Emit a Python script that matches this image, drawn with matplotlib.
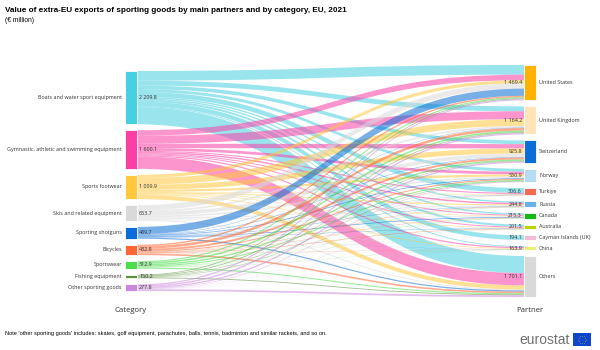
import matplotlib
matplotlib.use("Agg")
import matplotlib.pyplot as plt
from matplotlib.path import Path
from matplotlib.patches import PathPatch, Rectangle
import numpy as np

categories = ["Boats and water sport equipment",
              "Gymnastic, athletic and swimming equipment",
              "Sports footwear", "Skis and related equipment",
              "Sporting shotguns", "Bicycles", "Sportswear",
              "Fishing equipment", "Other sporting goods"]
category_totals = [2209.8, 1600.1, 1009.9, 653.7, 489.7, 432.8, 312.9, 150.2, 277.8]

partners = ["United States", "United Kingdom", "Switzerland", "Norway", "Turkiye",
            "Russia", "Canada", "Australia", "Cayman Islands (UK)", "China", "Others"]
partner_totals = [1469.4, 1164.2, 925.8, 550.9, 306.6, 244.8, 215.3, 201.5, 194.1, 163.9, 1701.1]

# flows from each category to the partners (same order as partners)
boats      = [400, 200, 150, 120, 200, 60, 60, 85, 188, 40, 706.8]
gymnastic  = [230, 330, 180, 110, 45, 60, 40, 40, 2, 50, 513.1]
footwear   = [130, 280, 210, 90, 20, 40, 20, 20, 1, 30, 168.9]
skis       = [220, 70, 150, 70, 10, 40, 30, 10, 0.5, 15, 38.2]
shotguns   = [300, 15, 20, 30, 10, 15, 30, 15, 0.2, 5, 49.5]
bicycles   = [60, 110, 80, 45, 10, 15, 15, 20, 0.5, 10, 67.3]
sportswear = [50, 70, 60, 45, 7, 10, 10, 6, 0.5, 8, 46.4]
fishing    = [30, 30, 20, 20, 1.6, 2, 5, 2.5, 0.2, 2, 36.9]
other      = [49.4, 59.2, 55.8, 20.9, 3.0, 2.8, 5.3, 3.0, 1.2, 3.9, 73.3]

category_colours = ["#48cfe0", "#fa3fa5", "#ffc83d", "#d9d9d9", "#0b6dd5",
                    "#ff6633", "#4cdc4c", "#5b8f3a", "#cc88dd"]
partner_colours = ["#ffb300", "#ffe4b8", "#0b6dd5", "#b3dcf2", "#f26a4f", "#66b3f0",
                   "#14b814", "#bbd40a", "#f2bcd9", "#e8f07a", "#d9d9d9"]

label_font = "Open Sans"
title_font = "Liberation Sans"


def fmt(v):
    return "{:,.1f}".format(v).replace(",", " ")


def stack(values, top, pad, k):
    tops = []
    y = top
    for v in values:
        tops.append(y)
        y += v * k + pad
    return tops


def main():
    flows = np.array([boats, gymnastic, footwear, skis, shotguns, bicycles,
                      sportswear, fishing, other])
    left_vals = flows.sum(axis=1)
    right_vals = flows.sum(axis=0)

    fig = plt.figure(figsize=(6, 3.5), dpi=100)
    ax = fig.add_axes([0, 0, 1, 1])
    ax.set_xlim(0, 600)
    ax.set_ylim(350, 0)
    ax.axis("off")

    top, bottom, pad = 65, 297, 6
    x_left, x_right, node_w = 125, 524, 12

    k = (bottom - top - pad * (len(partners) - 1)) / right_vals.sum()
    right_h = right_vals.sum() * k + pad * (len(partners) - 1)
    left_h = left_vals.sum() * k + pad * (len(categories) - 1)
    left_top = top + (right_h - left_h) / 2

    lt = stack(left_vals, left_top, pad, k)
    rt = stack(right_vals, top, pad, k)

    # links: outgoing ordered by partner, incoming ordered by category
    out_off = list(lt)
    in_off = list(rt)
    x0 = x_left + node_w
    x1 = x_right
    xm = (x0 + x1) / 2
    for i in range(len(categories)):
        for j in range(len(partners)):
            h = flows[i, j] * k
            s0 = out_off[i]
            t0 = in_off[j]
            out_off[i] += h
            in_off[j] += h
            verts = [(x0, s0), (xm, s0), (xm, t0), (x1, t0),
                     (x1, t0 + h),
                     (xm, t0 + h), (xm, s0 + h), (x0, s0 + h),
                     (x0, s0)]
            codes = [Path.MOVETO, Path.CURVE4, Path.CURVE4, Path.CURVE4,
                     Path.LINETO,
                     Path.CURVE4, Path.CURVE4, Path.CURVE4,
                     Path.CLOSEPOLY]
            ax.add_patch(PathPatch(Path(verts, codes), facecolor=category_colours[i],
                                   edgecolor="none", alpha=0.55, zorder=1))

    # nodes
    for i, name in enumerate(categories):
        h = left_vals[i] * k
        ax.add_patch(Rectangle((x_left, lt[i]), node_w, h, facecolor=category_colours[i],
                               edgecolor="white", linewidth=0.6, zorder=3))
        yc = lt[i] + h / 2
        ax.text(x_left - 3, yc, name, ha="right", va="center", fontsize=3.9,
                family=label_font, color="#333333")
        ax.text(x0 + 2, yc, fmt(category_totals[i]), ha="left", va="center",
                fontsize=3.9, family=label_font, color="#333333", zorder=4)

    for j, name in enumerate(partners):
        h = right_vals[j] * k
        ax.add_patch(Rectangle((x_right, rt[j]), node_w, h, facecolor=partner_colours[j],
                               edgecolor="white", linewidth=0.6, zorder=3))
        yc = rt[j] + h / 2
        ax.text(x_right + node_w + 3, yc, name, ha="left", va="center", fontsize=3.9,
                family=label_font, color="#333333")
        ax.text(x_right - 2, yc, fmt(partner_totals[j]), ha="right", va="center",
                fontsize=3.9, family=label_font, color="#333333", zorder=4)

    ax.text(x_left + node_w / 2, 310, "Category", ha="center", va="center",
            fontsize=5.6, family=label_font, color="#333333")
    ax.text(x_right + node_w / 2, 310, "Partner", ha="center", va="center",
            fontsize=5.6, family=label_font, color="#333333")

    ax.text(5, 10, "Value of extra-EU exports of sporting goods by main partners and by category, EU, 2021",
            ha="left", va="center", fontsize=5.9, fontweight="bold", family=title_font, color="black")
    ax.text(5, 21, "(\u20ac million)", ha="left", va="center", fontsize=4.8,
            family=title_font, color="black")
    ax.text(5, 334, "Note 'other sporting goods' includes: skates, golf equipment, parachutes, balls, "
                    "tennis, badminton and similar rackets, and so on.",
            ha="left", va="center", fontsize=4.05, family=title_font, color="black")

    # eurostat logo
    ax.text(570, 340, "eurostat", ha="right", va="center", fontsize=10,
            family=title_font, color="#707070")
    ax.add_patch(Rectangle((573, 333), 18, 13, facecolor="#0e47cb", edgecolor="none"))
    ang = np.linspace(0, 2 * np.pi, 12, endpoint=False)
    ax.scatter(582 + 3.8 * np.cos(ang), 339.5 + 3.8 * np.sin(ang), s=0.7,
               color="#ffdd00", marker="*", linewidths=0, zorder=5)

    fig.savefig("out.png", dpi=100)


if __name__ == "__main__":
    main()
